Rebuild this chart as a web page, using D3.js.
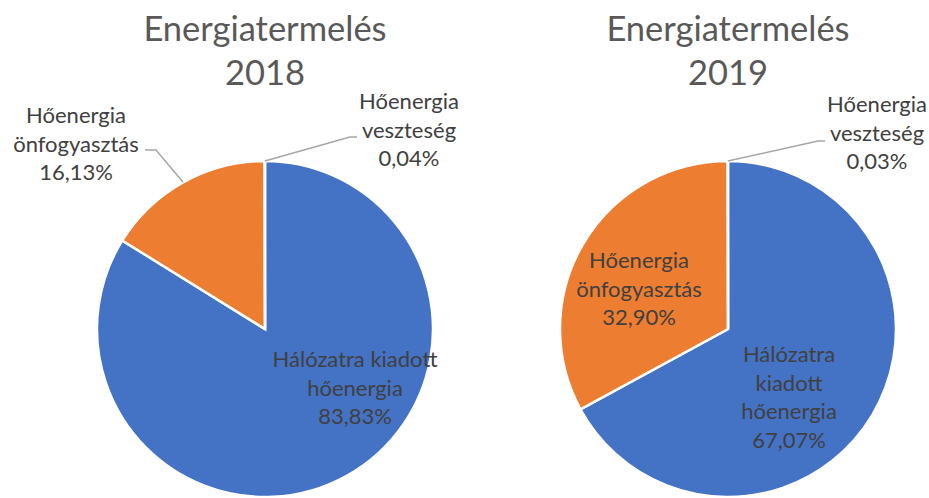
<!DOCTYPE html>
<html lang="hu">
<head>
   <meta charset="UTF-8">
   <title>Energiatermelés 2018 / 2019</title>
   <style>
      html, body {
         margin: 0;
         padding: 0;
         background: #fff;
         overflow: hidden;
      }

      text {
         font-family: Lato, "Open Sans", sans-serif;
      }

      .title {
         font-size: 34.5px;
         fill: #595959;
      }

      .label {
         font-size: 22px;
         fill: #404040;
      }

      .leader {
         fill: none;
         stroke: #A6A6A6;
         stroke-width: 1.5;
      }

      .slice {
         stroke: #fff;
         stroke-width: 2.5;
      }
   </style>
   <script src="https://cdn.jsdelivr.net/npm/d3@7"></script>
</head>
<body>
   <div class="chart"></div>
   <script>
      // data
      const categories = ['Hálózatra kiadott hőenergia', 'Hőenergia önfogyasztás', 'Hőenergia veszteség']
      const years = ['2018', '2019']
      const values2018 = [83.83, 16.13, 0.04]
      const values2019 = [67.07, 32.90, 0.03]
      const colors = ['#4472C4', '#ED7D31', '#A5A5A5']

      const WIDTH = 929
      const HEIGHT = 498
      const RADIUS = 168
      const LINE = 28.7

      // where each pie sits and how its labels are broken / placed
      const layout = [
         {
            values: values2018, cx: 265, cy: 329, titleY: 41,
            labels: [
               { lines: ['Hálózatra kiadott', 'hőenergia'], x: 355, y: 367 },
               { lines: ['Hőenergia', 'önfogyasztás'], x: 76, y: 123, elbow: [[156, 150], [145, 150]] },
               { lines: ['Hőenergia', 'veszteség'], x: 409, y: 109, elbow: [[350, 137], [357, 137]] }
            ]
         },
         {
            values: values2019, cx: 728, cy: 329, titleY: 41,
            labels: [
               { lines: ['Hálózatra', 'kiadott', 'hőenergia'], x: 789, y: 362 },
               { lines: ['Hőenergia', 'önfogyasztás'], x: 639, y: 268 },
               { lines: ['Hőenergia', 'veszteség'], x: 877, y: 112, elbow: [[818, 141], [825, 141]] }
            ]
         }
      ]

      const formatPct = v => v.toFixed(2).replace('.', ',') + '%'

      const svg = d3.select('.chart').append('svg')
         .attr('width', WIDTH)
         .attr('height', HEIGHT)

      const pie = d3.pie().sort(null).value(d => d)
      const arc = d3.arc().innerRadius(0).outerRadius(RADIUS)
      const edge = d3.arc().innerRadius(RADIUS).outerRadius(RADIUS)

      layout.forEach((p, i) => {
         const g = svg.append('g')

         // title
         g.append('text')
            .attr('class', 'title')
            .attr('text-anchor', 'middle')
            .attr('x', p.cx)
            .attr('y', p.titleY)
            .text('Energiatermelés')
         g.append('text')
            .attr('class', 'title')
            .attr('text-anchor', 'middle')
            .attr('x', p.cx)
            .attr('y', p.titleY + 44)
            .text(years[i])

         const arcs = pie(p.values)

         // slices
         g.append('g')
            .attr('transform', `translate(${p.cx}, ${p.cy})`)
            .selectAll('path')
            .data(arcs)
            .enter()
            .append('path')
            .attr('class', 'slice')
            .attr('fill', (d, j) => colors[j])
            .attr('d', arc)

         // leader lines
         arcs.forEach((a, j) => {
            const lab = p.labels[j]
            if (!lab.elbow) return
            const c = edge.centroid(a)
            const pts = [[p.cx + c[0], p.cy + c[1]], ...lab.elbow]
            g.append('path')
               .attr('class', 'leader')
               .attr('d', d3.line()(pts))
         })

         // labels
         arcs.forEach((a, j) => {
            const lab = p.labels[j]
            const lines = [...lab.lines, formatPct(p.values[j])]
            const t = g.append('text')
               .attr('class', 'label')
               .attr('text-anchor', 'middle')
               .attr('data-category', categories[j])
            lines.forEach((s, k) => {
               t.append('tspan')
                  .attr('x', lab.x)
                  .attr('y', lab.y + k * LINE)
                  .text(s)
            })
         })
      })
   </script>
</body>
</html>
